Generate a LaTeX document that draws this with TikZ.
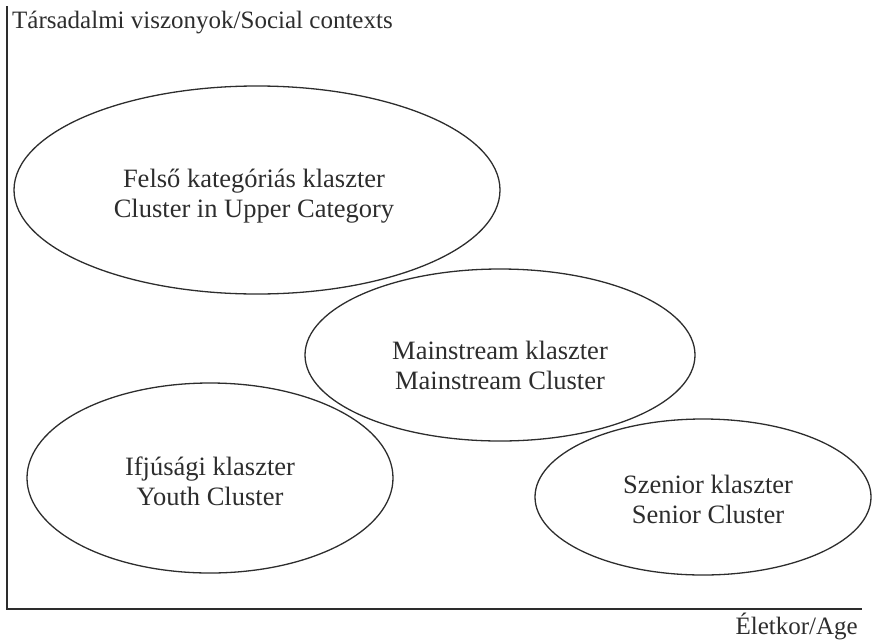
\documentclass[tikz,border=0pt]{standalone}
\usepackage{fontspec}
\setmainfont{Liberation Serif}
\usetikzlibrary{shapes.geometric}
\definecolor{ink}{RGB}{45,45,45}
\begin{document}
\begin{tikzpicture}[x=1pt,y=-1pt,
  axisline/.style={draw=ink,line width=2.4pt},
  cluster/.style={ellipse,draw=ink,line width=1.3pt,inner sep=0pt},
  clustertext/.style={text=ink,inner sep=0pt,align=center,font=\fontsize{26.5}{30}\selectfont},
  axislabel/.style={text=ink,inner sep=0pt,font=\fontsize{25}{28}\selectfont}]
\useasboundingbox (0,0) rectangle (874,640);
\coordinate (ytop) at (7,6);
\coordinate (origin) at (7,609);
\coordinate (xend) at (862,609);
\draw[axisline] (ytop) -- (origin) -- (xend);
\node[axislabel,anchor=base west] (ylab) at (12,28) {Társadalmi viszonyok/Social contexts};
\node[axislabel,anchor=base east] (xlab) at (858,634) {Életkor/Age};
\node[cluster,minimum width=486pt,minimum height=208pt] (upper) at (257,190) {};
\node[cluster,minimum width=390pt,minimum height=172pt] (main) at (500,355) {};
\node[cluster,minimum width=366pt,minimum height=190pt] (youth) at (210,478) {};
\node[cluster,minimum width=336pt,minimum height=156pt] (senior) at (703,497) {};
\node[clustertext] (upperT) at (254,196) {Felső kategóriás klaszter\\Cluster in Upper Category};
\node[clustertext] (mainT) at (500,365) {Mainstream klaszter\\Mainstream Cluster};
\node[clustertext] (youthT) at (210,481) {Ifjúsági klaszter\\Youth Cluster};
\node[clustertext] (seniorT) at (708,499) {Szenior klaszter\\Senior Cluster};
\end{tikzpicture}
\end{document}
